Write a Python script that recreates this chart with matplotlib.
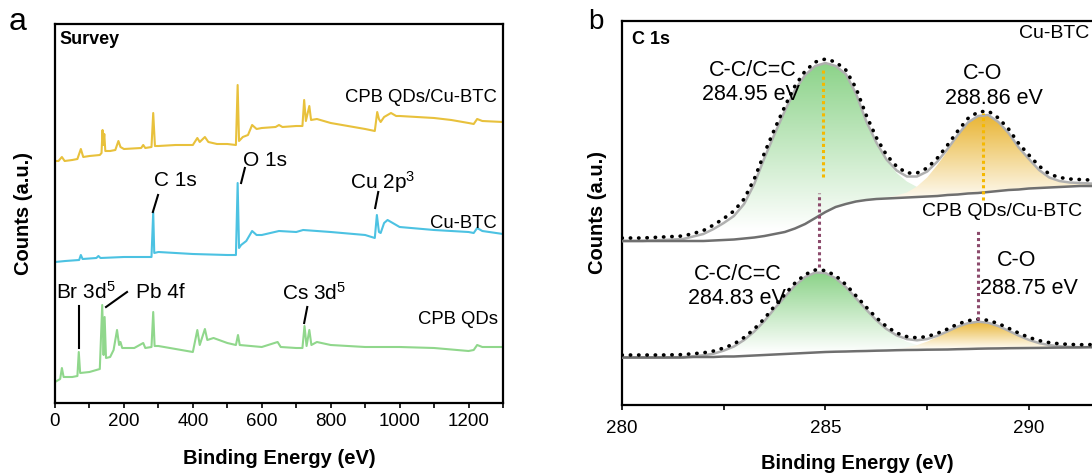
import numpy as np
import matplotlib.pyplot as plt
from matplotlib.patches import Polygon
from matplotlib.colors import LinearSegmentedColormap
from matplotlib.ticker import MultipleLocator

plt.rcParams['font.family'] = 'Liberation Sans'
plt.rcParams['mathtext.fontset'] = 'custom'
plt.rcParams['mathtext.rm'] = 'Liberation Sans'
plt.rcParams['mathtext.default'] = 'regular'

# ---- survey spectra (binding energy in eV, counts with vertical offsets) ----
be_qds_cu = [0, 10, 20, 28, 50, 65, 75, 82, 100, 130, 135, 138, 140, 143, 146, 160, 175, 184, 190, 200,
             250, 256, 262, 280, 285, 290, 300, 350, 400, 413, 420, 435, 445, 470, 500, 525, 530, 534, 545, 560,
             572, 585, 600, 640, 650, 660, 700, 718, 723, 728, 738, 743, 760, 800, 850, 900, 928, 935, 940, 945,
             955, 965, 975, 990, 1000, 1050, 1100, 1150, 1200, 1215, 1225, 1240, 1300]
cnt_qds_cu = [242, 242, 246, 242, 243, 244, 254, 246, 247, 248, 250, 273, 258, 269, 252, 252, 253, 262, 256, 254,
              255, 258, 255, 256, 290, 257, 257, 258, 258, 265, 261, 266, 261, 259, 259, 258, 318, 262, 266, 268,
              278, 274, 275, 276, 278, 276, 277, 277, 303, 282, 297, 283, 284, 280, 277, 274, 272, 291, 284, 281,
              286, 288, 290, 287, 287, 286, 285, 283, 280, 279, 284, 282, 281]

be_cubtc = [0, 30, 70, 75, 80, 120, 126, 132, 200, 280, 285, 288, 300, 400, 500, 525, 530, 534, 540, 555,
            572, 585, 600, 650, 700, 720, 800, 900, 928, 934, 940, 945, 955, 965, 980, 1000, 1100, 1200, 1215,
            1225, 1240, 1300]
cnt_cubtc = [141, 142, 143, 148, 144, 145, 147, 145, 146, 146, 191, 150, 151, 149, 148, 148, 220, 155, 158, 162,
             172, 168, 168, 172, 171, 173, 171, 168, 165, 188, 171, 170, 180, 183, 180, 176, 173, 171, 170,
             175, 172, 169]

be_qds = [0, 15, 20, 25, 50, 65, 69, 73, 100, 130, 137, 141, 144, 148, 160, 170, 180, 186, 190, 195,
          230, 256, 262, 280, 285, 289, 300, 350, 400, 413, 420, 435, 442, 460, 500, 525, 531, 536, 600, 646,
          655, 700, 718, 724, 730, 738, 744, 760, 800, 900, 1000, 1100, 1200, 1215, 1225, 1240, 1300]
cnt_qds = [21, 24, 35, 26, 26, 27, 51, 30, 31, 34, 98, 48, 86, 45, 46, 53, 73, 58, 61, 55,
           55, 60, 55, 56, 91, 57, 57, 54, 51, 73, 58, 74, 63, 65, 60, 58, 68, 58, 56, 61,
           56, 55, 55, 77, 57, 73, 58, 61, 58, 56, 56, 55, 52, 53, 58, 56, 56]

# ---- C 1s high resolution, 0.25 eV steps from 280 to 292 eV ----
be_c1s = np.linspace(280, 292, 49)

# CPB QDs/Cu-BTC (upper): Shirley background, C-C/C=C and C-O components, raw counts
bg_top = [164, 164, 164, 164, 164, 164, 164, 164, 164, 164.5, 165, 165.5, 166.5, 167.5, 169, 171, 173,
          176.5, 181, 187, 193, 198, 201, 203.5, 205, 206, 206.5, 207, 207.5, 208, 208.5, 209, 210,
          210.5, 211.5, 212, 213, 214, 215, 215.5, 216.5, 217, 217.5, 218, 218.5, 219, 219, 219, 219]
cc_top = [0, 0, 0, 0.5, 1, 1.5, 2, 4.5, 7, 11.5, 17, 23.5, 34.5, 53.5, 78, 100, 121,
          138.5, 149, 152, 149, 141, 130, 108, 79, 56, 38, 25, 16, 10, 6, 3.5, 2,
          1, 0.5, 0, 0, 0, 0, 0, 0, 0, 0, 0, 0, 0, 0, 0, 0]
co_top = [0, 0, 0, 0, 0, 0, 0, 0, 0, 0, 0, 0, 0, 0, 0, 0, 0,
          0, 0, 0, 0, 0, 0, 0, 0, 0.5, 1, 2.5, 5, 10.5, 19, 31, 44,
          58.5, 70.5, 77, 77, 69, 57, 42, 29.5, 18, 10, 6, 4, 3, 2.5, 2, 2]
raw_top = [167, 167, 167, 167.5, 168, 168.5, 169, 171.5, 174.5, 180, 186.5, 194, 206, 226, 252, 276, 298.5,
           319, 334, 343, 346, 343, 335, 317, 290, 267.5, 250, 238.5, 232, 232, 237, 247, 260,
           274, 286.5, 293, 294, 287, 276, 261.5, 250, 239, 231, 227.5, 226, 225.5, 225, 224.5, 224.5]

# Cu-BTC (lower)
bg_bot = [47.5, 47.5, 47.5, 47.5, 47.5, 47.5, 47.5, 48, 48, 48, 48.5, 48.5, 49, 49.5, 50, 50.5, 51,
          51.5, 52, 52.5, 53, 53.3, 53.5, 53.8, 54, 54.3, 54.5, 54.8, 55, 55.1, 55.3, 55.4, 55.5,
          55.8, 56, 56.3, 56.5, 56.6, 56.8, 56.9, 57, 57.1, 57.3, 57.4, 57.5, 57.6, 57.8, 57.9, 58]
cc_bot = [0, 0, 0, 0, 0, 0.2, 0.4, 0.8, 1.7, 3.3, 5.9, 10, 16, 24, 34, 46, 57,
          68, 76, 80, 79, 73.5, 64.5, 53, 41.5, 30.5, 21, 13.5, 8.3, 4.8, 2.6, 1.3, 0.6,
          0.3, 0.1, 0, 0, 0, 0, 0, 0, 0, 0, 0, 0, 0, 0, 0, 0]
co_bot = [0, 0, 0, 0, 0, 0, 0, 0, 0, 0, 0, 0, 0, 0, 0, 0, 0,
          0, 0, 0, 0, 0, 0, 0, 0, 0, 0.5, 1.3, 2.6, 4.8, 8.1, 12.5, 17.5,
          22.3, 25.7, 27, 25.7, 22.3, 17.5, 12.5, 8.1, 4.8, 2.6, 1.3, 0.6, 0.2, 0.1, 0, 0]
raw_bot = [50, 50, 50, 50, 50, 50.2, 50.4, 51.3, 52.2, 54, 57, 61, 67.5, 76, 86.5, 99, 110.5,
           122, 130.5, 135, 134.5, 129.3, 120.5, 109.3, 98, 87.3, 78.5, 72, 68.4, 67.2, 68.5, 71.7, 76,
           81, 84.3, 85.8, 84.7, 81.4, 76.8, 71.9, 67.6, 64.4, 62.4, 61.2, 60.6, 60.3, 60.4, 60.4, 60.5]

# fitted peak positions (eV)
pk_cc_top, pk_co_top = 284.95, 288.86
pk_cc_bot, pk_co_bot = 284.83, 288.75

c_yellow = '#e8c13c'
c_blue = '#4cc2e2'
c_green = '#90d78c'
c_fill_green = '#8cd389'
c_fill_gold = '#e9b534'
c_mark_gold = '#f5b800'
c_mark_purple = '#8c4a6c'

fig = plt.figure(figsize=(10.92, 4.76), dpi=100)

# ================= panel a: survey =================
ax1 = fig.add_axes([55 / 1092, 73 / 476, 448 / 1092, 379 / 476])
ax1.plot(be_qds_cu, cnt_qds_cu, color=c_yellow, lw=1.5)
ax1.plot(be_cubtc, cnt_cubtc, color=c_blue, lw=1.5)
ax1.plot(be_qds, cnt_qds, color=c_green, lw=1.5)
ax1.set_xlim(0, 1300)
ax1.set_ylim(0, 379)
ax1.set_yticks([])
ax1.xaxis.set_major_locator(MultipleLocator(200))
ax1.xaxis.set_minor_locator(MultipleLocator(100))

ax1.text(14, 364, 'Survey', fontsize=13, fontweight='bold', va='center')
ax1.text(1283, 305, 'CPB QDs/Cu-BTC', fontsize=13.3, ha='right', va='center')
ax1.text(1283, 180, 'Cu-BTC', fontsize=13.3, ha='right', va='center')
ax1.text(1285, 83, 'CPB QDs', fontsize=13.3, ha='right', va='center')

ax1.text(348, 223, 'C 1s', fontsize=15, ha='center', va='center')
ax1.plot([299, 284], [208, 191], color='black', lw=1.5)
ax1.text(608, 243, 'O 1s', fontsize=15, ha='center', va='center')
ax1.plot([551, 540], [235, 220], color='black', lw=1.5)
ax1.text(952, 221, 'Cu 2p$^{3}$', fontsize=15, ha='center', va='center')
ax1.plot([938, 929], [211, 195], color='black', lw=1.5)
ax1.text(90, 111, 'Br 3d$^{5}$', fontsize=15, ha='center', va='center')
ax1.plot([70, 70], [97, 55], color='black', lw=1.5)
ax1.text(305, 111, 'Pb 4f', fontsize=15, ha='center', va='center')
ax1.plot([209, 148], [111, 96], color='black', lw=1.5)
ax1.text(752, 110, 'Cs 3d$^{5}$', fontsize=15, ha='center', va='center')
ax1.plot([732, 723], [96, 80], color='black', lw=1.5)

ax1.set_xlabel('Binding Energy (eV)', fontsize=14.5, fontweight='bold')
ax1.xaxis.set_label_coords(0.5, -0.121)
ax1.text(-0.0714, 0.5, 'Counts (a.u.)', transform=ax1.transAxes, rotation=90,
         fontsize=14.5, fontweight='bold', ha='center', va='center')

# ================= panel b: C 1s =================
ax2 = fig.add_axes([622 / 1092, 71 / 476, 470 / 1092, 384 / 476])


def gradient_fill(ax, x, base, comp, color, y_white, y_color):
    top = np.array(base) + np.array(comp)
    verts = list(zip(x, top)) + list(zip(x[::-1], np.array(base)[::-1]))
    poly = Polygon(verts, closed=True, transform=ax.transData, facecolor='none', edgecolor='none')
    ax.add_patch(poly)
    cmap = LinearSegmentedColormap.from_list('g', ['white', color])
    grad = np.linspace(0, 1, 256).reshape(-1, 1)
    im = ax.imshow(grad, extent=[x[0], x[-1], y_white, y_color], origin='lower',
                   aspect='auto', cmap=cmap, zorder=1, interpolation='bicubic')
    im.set_clip_path(poly)


bg_t, cc_t, co_t = np.array(bg_top), np.array(cc_top), np.array(co_top)
bg_b, cc_b, co_b = np.array(bg_bot), np.array(cc_bot), np.array(co_bot)

gradient_fill(ax2, be_c1s, bg_t, cc_t, c_fill_green, 175, 342)
gradient_fill(ax2, be_c1s, bg_t, co_t, c_fill_gold, 200, 290)
gradient_fill(ax2, be_c1s, bg_b, cc_b, c_fill_green, 52, 132)
gradient_fill(ax2, be_c1s, bg_b, co_b, c_fill_gold, 55, 84)

for bg, cc, co, raw in [(bg_t, cc_t, co_t, raw_top), (bg_b, cc_b, co_b, raw_bot)]:
    ax2.plot(be_c1s, bg + cc + co, color='#b0b0b0', lw=1.8, zorder=3)
    ax2.plot(be_c1s, bg, color='#6f6f6f', lw=1.8, zorder=3)
    ax2.plot(be_c1s, raw, color='black', lw=2.6, linestyle=(0, (0.1, 2.2)),
             dash_capstyle='round', zorder=4)

ax2.plot([pk_cc_top, pk_cc_top], [228, 337], color=c_mark_gold, lw=2.2, linestyle=(0, (1, 1)), zorder=5)
ax2.plot([pk_co_top, pk_co_top], [205, 292], color=c_mark_gold, lw=2.2, linestyle=(0, (1, 1)), zorder=5)
ax2.plot([pk_cc_bot, pk_cc_bot], [138, 212], color=c_mark_purple, lw=2.2, linestyle=(0, (1, 1)), zorder=5)
ax2.plot([pk_co_bot, pk_co_bot], [85, 175], color=c_mark_purple, lw=2.2, linestyle=(0, (1, 1)), zorder=5)

ax2.text(280.25, 365.5, 'C 1s', fontsize=13, fontweight='bold', va='center')
ax2.text(289.75, 371, 'Cu-BTC', fontsize=14, va='center')
ax2.text(287.37, 194, 'CPB QDs/Cu-BTC', fontsize=14, va='center')
ax2.text(283.22, 335, 'C-C/C=C', fontsize=15.5, ha='center', va='center')
ax2.text(283.18, 310, f'{pk_cc_top:.2f} eV', fontsize=15.5, ha='center', va='center')
ax2.text(288.87, 331.5, 'C-O', fontsize=15.5, ha='center', va='center')
ax2.text(289.13, 306.5, f'{pk_co_top:.2f} eV', fontsize=15.5, ha='center', va='center')
ax2.text(282.84, 130, 'C-C/C=C', fontsize=15.5, ha='center', va='center')
ax2.text(282.83, 106.5, f'{pk_cc_bot:.2f} eV', fontsize=15.5, ha='center', va='center')
ax2.text(289.7, 144, 'C-O', fontsize=15.5, ha='center', va='center')
ax2.text(290.0, 116.5, f'{pk_co_bot:.2f} eV', fontsize=15.5, ha='center', va='center')

ax2.set_xlim(280, 291.55)
ax2.set_ylim(0, 384)
ax2.set_yticks([])
ax2.xaxis.set_major_locator(MultipleLocator(5))
ax2.xaxis.set_minor_locator(MultipleLocator(2.5))
ax2.spines['right'].set_visible(False)
ax2.set_xlabel('Binding Energy (eV)', fontsize=14.5, fontweight='bold')
ax2.xaxis.set_label_coords(0.5, -0.128)
ax2.text(-0.053, 0.5, 'Counts (a.u.)', transform=ax2.transAxes, rotation=90,
         fontsize=14.5, fontweight='bold', ha='center', va='center')

for ax, pad in ((ax1, 4), (ax2, 7)):
    for sp in ax.spines.values():
        sp.set_linewidth(1.6)
    ax.tick_params(axis='x', which='both', direction='out', length=3.5, width=1.2,
                   labelsize=13.5, pad=pad)

fig.text(18 / 1092, 1 - 22 / 476, 'a', fontsize=23, ha='center', va='center')
fig.text(596 / 1092, 1 - 22 / 476, 'b', fontsize=20, ha='center', va='center')

fig.savefig('out.png', dpi=100)
